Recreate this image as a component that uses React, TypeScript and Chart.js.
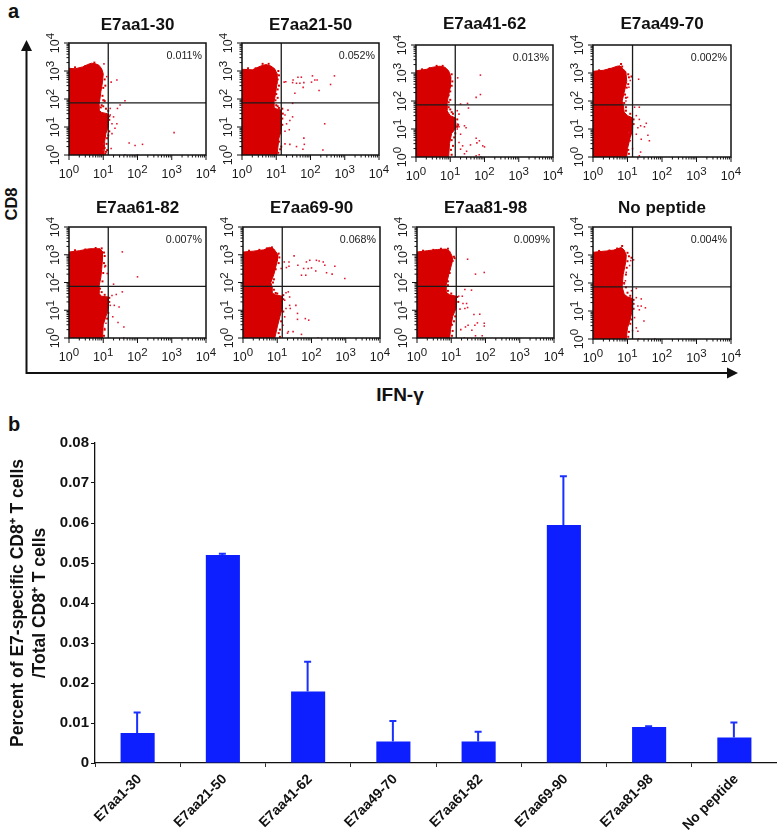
import React, { useEffect, useRef } from "react";
import { Chart, registerables } from "chart.js";

Chart.register(...registerables);

const FONT = "'Liberation Sans', Arial, sans-serif";

// ---------- panel a ----------
const panelTitles = ["E7aa1-30", "E7aa21-50", "E7aa41-62", "E7aa49-70", "E7aa61-82", "E7aa69-90", "E7aa81-98", "No peptide"];
const panelPercents = ["0.011%", "0.052%", "0.013%", "0.002%", "0.007%", "0.068%", "0.009%", "0.004%"];
const tickExponents = [0, 1, 2, 3, 4];
const minorMultipliers = [2, 3, 4, 5, 6, 7, 8, 9];
const gateX = 14;
const gateY = 73;

// dense population outlines, [IFN-g, CD8]
const blob1 = [[1,1],[1,1250],[1.5,1200],[2.5,1400],[3.5,1700],[4.5,1900],[6,1800],[7.5,1600],[9,1200],[10,800],[9.5,400],[8.5,180],[8,100],[7.5,60],[7.5,40],[9,33],[13,30],[14,28],[14,10],[12,6],[11,3],[10.5,1]];
const blob2 = [[1,1],[1,1150],[2,1100],[3.5,1500],[5,1700],[7,1500],[9,1200],[10.5,800],[10.5,350],[9.5,150],[8.5,73],[8.5,50],[10,45],[14,40],[14,8],[12,4],[10.5,1]];
const blob3 = [[1,1],[1,1200],[2,1350],[3,1600],[5,1750],[7,1600],[9,1200],[10.5,700],[10,300],[8.5,120],[8,73],[8,45],[10,30],[14,25],[15,12],[14,10],[11,7],[9.5,3],[9,1]];
const blob4 = [[1,1],[1,1150],[2,1250],[3.5,1500],[5,1750],[6,1800],[7.5,1400],[9,1100],[9.5,500],[8,200],[7,100],[7.5,73],[8,40],[10,30],[14,25],[14,10],[12,5],[10,2],[9.5,1]];
const blob5 = [[1,1],[1,1250],[2,1400],[4,1650],[8,1650],[9.5,1300],[9.5,700],[9,300],[8.5,150],[7.5,73],[7.5,40],[9,32],[14,30],[14,12],[12,6],[10,3],[9.5,1]];
const blob6 = [[1,1],[1,1250],[2,1350],[4,1500],[6,1850],[8,1600],[10.5,1000],[10,600],[8,200],[6.5,100],[7,73],[7,42],[9,36],[14,32],[14,12],[12,6],[10,2.5],[8.5,1]];
const blob7 = [[1,1],[1,1250],[2,1400],[4,1550],[7,1600],[9,1350],[11,800],[10.5,500],[8.5,200],[7,73],[7,45],[9,36],[14,32],[14,12],[11,6],[9.5,2],[9,1]];
const blob8 = [[1,1],[1,1250],[2.5,1400],[4,1500],[6.6,1850],[8,1500],[9.2,1000],[9,600],[7.5,200],[7,73],[8,40],[10,32],[14,28],[14,12],[12,5],[10,2.5],[9.2,1]];

// events on the rough edge of the dense population, [IFN-g, CD8]
const edge1 = [[11,500],[11.5,300],[10,250],[9.5,130],[10,90],[11,85],[9,60],[8.5,50],[10,55],[12,45],[14,38],[11,1.8],[12,1.3],[12.5,2.5],[13,4],[14,5],[15,7],[15,18],[15,24],[11.5,1.1],[13,1.5],[1.5,1350],[3,1500],[5.5,2000]];
const edge2 = [[11.5,1000],[12,700],[11,500],[12,300],[11,220],[10,150],[11,110],[9.5,90],[10,60],[11,55],[12,48],[15,45],[15.5,30],[15,20],[15,12],[13,6],[12,3],[14,2],[13,1.6],[11.5,1.2],[1.5,1250],[2.5,1250],[4,1800],[6,1800]];
const edge3 = [[11,900],[11.5,500],[11,350],[10,220],[9,160],[10,110],[9,90],[9,60],[10,50],[11,40],[12,35],[16,22],[17,14],[16,12],[14,7],[13,5],[11,4],[12,2.5],[10.5,1.8],[11,1.2],[1.5,1350],[2.5,1500],[4,1800],[6,1800]];
const edge4 = [[10.5,900],[11,700],[13,750],[10.5,400],[9.5,300],[8.5,170],[9,130],[8,85],[9,60],[9,45],[12,35],[15,22],[15,15],[13,7],[12,6],[11,4],[10.5,1.8],[11,1.3],[1.5,1250],[3,1400],[6.5,2100],[7,1700]];
const edge5 = [[10.5,1200],[11,900],[10.5,500],[11.5,400],[10,220],[9.5,110],[8,60],[9,45],[11,36],[15,28],[15,20],[14,8],[13,5],[11,2],[10.5,1.2],[1.5,1450],[3,1550],[6,1750],[9,1700]];
const edge6 = [[11,1100],[11.5,800],[11,500],[9,300],[8,130],[7.5,100],[8,55],[9,42],[10,40],[15,35],[15,25],[15,9],[13,4],[12,2],[11,1.5],[12,1.1],[1.5,1400],[3,1500],[5,1700],[7,1850]];
const edge7 = [[12,850],[12.5,750],[11,600],[9,300],[9,220],[8,110],[8,80],[8,50],[10,40],[15,30],[16,20],[13,6],[12,4],[10.5,3],[11,1.8],[10.5,1.2],[1.5,1400],[3,1500],[5,1650],[8,1650]];
const edge8 = [[10,1200],[11,900],[13,800],[10,600],[9.5,350],[9,200],[8,100],[9,70],[10,45],[12,35],[15,25],[15,18],[15,12],[13,5],[12,3.5],[11,1.8],[10.5,1.2],[1.5,1400],[3,1450],[5,1700],[7,2100]];

// sparse events, [IFN-g, CD8]
const dots1 = [[25,480],[17,400],[43,87],[1170,6.3],[57,2.7],[85,2.2],[140,2.4],[43,1],[100,1],[17,1.7],[16,27],[20,23],[18,13],[25,13],[22,9],[16,46],[26,46],[31,61],[18,5.8],[13,3.9],[10.5,2.5],[10,1.5],[10.5,1800],[12.6,630],[10.5,92]];
const dots2 = [[17,400],[19,410],[31,480],[30,385],[43,600],[54,600],[39,365],[49,365],[64,385],[61,260],[35,160],[114,670],[107,400],[134,480],[156,480],[178,200],[385,330],[500,670],[30,70],[22,40],[18,27],[25,17],[20,13],[24,8],[18,7],[30,23],[39,2],[64,4],[66,2.4],[60,1.6],[260,13],[230,1.5],[18,2.5],[25,2.4]];
const dots3 = [[16.5,670],[76,840],[76,170],[57,135],[32,82],[20,78],[16,45],[34,56],[18,34],[16.5,15],[26,13],[29,11],[18,12],[16,10],[20,6.5],[18,3.3],[23,2.5],[39,2.7],[57,4.7],[71,3.8],[89,2.5],[60,3.2],[100,2.3],[26,1.3],[30,1.6],[57,1.1],[70,1.2],[78,1],[20,1.9]];
const dots4 = [[21,600],[22,60],[16,60],[18,30],[22,22],[20,11],[24,13],[35,16],[31,12],[39,6],[43,3.8],[25,4.3],[18,6.5],[24,1.5],[22,1.1],[14,2],[12,3.8],[11,7.5],[12,540],[11,310],[10,135],[9,100]];
const dots5 = [[36,1270],[100,160],[20,87],[13,210],[11,365],[24,37],[18,34],[36,46],[16,15],[21,15],[29,13],[19,5.8],[27,3.6],[40,2.5],[40,1],[11,2.2],[12,3.4]];
const dots6 = [[16,550],[22,550],[18.5,345],[13,320],[40,420],[31,910],[71,550],[89,630],[139,630],[167,600],[220,550],[245,420],[59,320],[80,320],[100,335],[133,260],[275,225],[480,385],[400,200],[940,140],[51,183],[68,183],[22,385],[21,46],[18,43],[23,30],[16.5,23],[23,15],[18,11.6],[35,15],[24,11.6],[39,7.7],[39,4.7],[66,5],[83,4.4],[16.5,5.8],[14.7,2.9],[21,1.7],[29,1.7],[51,1.35],[155,1],[20,1.5]];
const dots7 = [[30,690],[51,200],[92,230],[25,56],[39,53],[21,32],[16.5,32],[22,17.5],[28,17.5],[18,11],[25,11.6],[30,12.5],[46,7],[68,7.2],[92,3.4],[92,2.7],[58,3.5],[49,2.9],[31,2.9],[26,2.5],[19,2],[51,1.2],[24,1],[40,1.9],[80,1.2]];
const dots8 = [[15,670],[12.4,630],[11.5,420],[9.2,240],[8.7,120],[8,92],[13,53],[18,64],[18,30],[25,27],[20,15],[25,15],[33,13],[22,11],[30,4.4],[16,5.8],[18,2.5],[20,1.9],[21,1],[62,1],[14,2]];

const panelBlobs = [blob1, blob2, blob3, blob4, blob5, blob6, blob7, blob8];
const panelEdges = [edge1, edge2, edge3, edge4, edge5, edge6, edge7, edge8];
const panelDots = [dots1, dots2, dots3, dots4, dots5, dots6, dots7, dots8];

// plot-area boxes: left, right, top, bottom
const panelBoxes = [
  [69, 206, 43, 155], [242, 379, 43, 155], [416, 553, 45, 157], [593, 731, 45, 157],
  [69, 206, 227, 338], [243, 380, 227, 338], [417, 554, 227, 338], [593, 731, 227, 339],
];
const titleTopPad = [3, 3, 0.5, 0.5, 2, 2, 2, 2];

const toPoints = (list: number[][]) => list.map(([x, y]) => ({ x, y }));

const flowAxes = {
  id: "flowAxes",
  afterDatasetsDraw(chart: any, _a: any, opts: any) {
    const { ctx, chartArea: A, scales } = chart;
    const sx = scales.x;
    const sy = scales.y;
    ctx.save();
    ctx.strokeStyle = "#111";
    ctx.lineWidth = 1.5;
    ctx.strokeRect(A.left, A.top, A.right - A.left, A.bottom - A.top);
    ctx.lineWidth = 1;
    ctx.beginPath();
    tickExponents.forEach((e) => {
      const v = Math.pow(10, e);
      const px = sx.getPixelForValue(v);
      const py = sy.getPixelForValue(v);
      ctx.moveTo(px, A.bottom);
      ctx.lineTo(px, A.bottom + 5);
      ctx.moveTo(A.left, py);
      ctx.lineTo(A.left - 5, py);
      if (e < 4) {
        minorMultipliers.forEach((m) => {
          const qx = sx.getPixelForValue(v * m);
          const qy = sy.getPixelForValue(v * m);
          ctx.moveTo(qx, A.bottom);
          ctx.lineTo(qx, A.bottom + 2.5);
          ctx.moveTo(A.left, qy);
          ctx.lineTo(A.left - 2.5, qy);
        });
      }
    });
    ctx.stroke();

    ctx.fillStyle = "#1a1a1a";
    ctx.textBaseline = "alphabetic";
    ctx.textAlign = "left";
    tickExponents.forEach((e) => {
      const v = Math.pow(10, e);
      const base = "10";
      const sup = String(e);
      ctx.font = `12.5px ${FONT}`;
      const bw = ctx.measureText(base).width;
      ctx.font = `11.5px ${FONT}`;
      const sw = ctx.measureText(sup).width;
      const total = bw + sw;
      // horizontal axis label
      const px = sx.getPixelForValue(v);
      ctx.font = `12.5px ${FONT}`;
      ctx.fillText(base, px - total / 2, A.bottom + 23);
      ctx.font = `11.5px ${FONT}`;
      ctx.fillText(sup, px - total / 2 + bw, A.bottom + 18);
      // vertical axis label
      const py = sy.getPixelForValue(v);
      ctx.save();
      ctx.translate(A.left - 10, py);
      ctx.rotate(-Math.PI / 2);
      ctx.font = `12.5px ${FONT}`;
      ctx.fillText(base, -total / 2, 0);
      ctx.font = `11.5px ${FONT}`;
      ctx.fillText(sup, -total / 2 + bw, -5);
      ctx.restore();
    });

    ctx.font = `10.7px ${FONT}`;
    ctx.textAlign = "right";
    ctx.textBaseline = "middle";
    ctx.fillStyle = "#222";
    ctx.fillText(opts.percent, A.right - 4, A.top + 13);
    ctx.restore();
  },
};

function FlowPanel({ index }: { index: number }) {
  const ref = useRef<HTMLCanvasElement>(null);
  const [L, R, T, B] = panelBoxes[index];
  const padL = 34, padR = 14, titleH = 31, padB = 28;
  useEffect(() => {
    const hiddenAxis = {
      type: "logarithmic",
      min: 1,
      max: 10000,
      grid: { display: false, drawTicks: false },
      border: { display: false },
      ticks: { display: false },
    };
    const chart = new Chart(ref.current as HTMLCanvasElement, {
      type: "scatter",
      data: {
        datasets: [
          { label: "gate x", data: toPoints([[gateX, 1], [gateX, 10000]]), showLine: true, borderColor: "#1a1a1a", borderWidth: 1.3, pointRadius: 0, order: 1 },
          { label: "gate y", data: toPoints([[1, gateY], [10000, gateY]]), showLine: true, borderColor: "#1a1a1a", borderWidth: 1.3, pointRadius: 0, order: 1 },
          { label: "population", data: toPoints(panelBlobs[index]), showLine: true, fill: "shape", backgroundColor: "#d60000", borderColor: "#d60000", borderWidth: 1, pointRadius: 0, order: 4 },
          { label: "edge", data: toPoints(panelEdges[index]), backgroundColor: "#d60000", borderWidth: 0, pointStyle: "rect", pointRadius: 1.4, order: 3 },
          { label: "events", data: toPoints(panelDots[index]), backgroundColor: "#e3142c", borderWidth: 0, pointStyle: "rect", pointRadius: 1.1, order: 2 },
        ] as any,
      },
      options: {
        responsive: false,
        animation: false,
        layout: { padding: { left: padL, right: padR, top: 0, bottom: padB } },
        scales: {
          x: { ...hiddenAxis, afterFit: (s: any) => { s.height = 0; } },
          y: { ...hiddenAxis, afterFit: (s: any) => { s.width = 0; } },
        },
        plugins: {
          legend: { display: false },
          tooltip: { enabled: false },
          title: {
            display: true,
            fullSize: false,
            text: panelTitles[index],
            color: "#111",
            font: { family: FONT, size: 17, weight: "bold", lineHeight: 1.2 },
            padding: { top: titleTopPad[index], bottom: 10.6 - titleTopPad[index] },
          },
          flowAxes: { percent: panelPercents[index] },
        } as any,
      } as any,
      plugins: [flowAxes],
    });
    return () => chart.destroy();
  }, [index]);
  return (
    <canvas
      ref={ref}
      width={R - L + padL + padR}
      height={B - T + titleH + padB}
      style={{ position: "absolute", left: L - padL, top: T - titleH }}
    />
  );
}

// ---------- panel b ----------
const barCategories = ["E7aa1-30", "E7aa21-50", "E7aa41-62", "E7aa49-70", "E7aa61-82", "E7aa69-90", "E7aa81-98", "No peptide"];
const barValues = [0.0075, 0.052, 0.0179, 0.0054, 0.0054, 0.0595, 0.009, 0.0064];
const errorTops = [0.0126, 0.0523, 0.0253, 0.0105, 0.0078, 0.0717, 0.0092, 0.0101];
const yTicks = [0, 0.01, 0.02, 0.03, 0.04, 0.05, 0.06, 0.07, 0.08];
const yTitleLines = ["Percent of E7-specific CD8\u207A T cells", "/Total CD8\u207A T cells"];

const errorBars = {
  id: "errorBars",
  afterDatasetsDraw(chart: any) {
    const { ctx, scales } = chart;
    ctx.save();
    ctx.strokeStyle = "#1a30ff";
    ctx.lineWidth = 2;
    errorTops.forEach((top, i) => {
      const x = scales.x.getPixelForValue(i);
      const y0 = scales.y.getPixelForValue(barValues[i]);
      const y1 = scales.y.getPixelForValue(top);
      ctx.beginPath();
      ctx.moveTo(x - 0.5, y0);
      ctx.lineTo(x - 0.5, y1);
      ctx.moveTo(x - 4, y1);
      ctx.lineTo(x + 3, y1);
      ctx.stroke();
    });
    ctx.restore();
  },
};

function BarPanel() {
  const ref = useRef<HTMLCanvasElement>(null);
  useEffect(() => {
    const chart = new Chart(ref.current as HTMLCanvasElement, {
      type: "bar",
      data: {
        labels: barCategories,
        datasets: [{ label: "Percent", data: barValues, backgroundColor: "#0d1fff", barPercentage: 1, categoryPercentage: 0.4 }],
      },
      options: {
        responsive: false,
        animation: false,
        layout: { padding: { top: 23, right: 0, bottom: 0, left: 0 } },
        scales: {
          x: {
            grid: { drawOnChartArea: false, color: "#333", tickLength: 4, offset: true },
            border: { color: "#111", width: 1.3 },
            ticks: {
              color: "#111",
              font: { family: FONT, size: 14, weight: "bold" },
              maxRotation: 45,
              minRotation: 45,
              autoSkip: false,
              padding: 4,
              labelOffset: 2,
            },
            afterFit: (s: any) => { s.height = 71; },
          },
          y: {
            min: 0,
            max: 0.08,
            afterBuildTicks: (s: any) => { s.ticks = yTicks.map((value) => ({ value })); },
            afterFit: (s: any) => { s.width = 95; },
            grid: { drawOnChartArea: false, color: "#111", tickLength: 4 },
            border: { color: "#111", width: 1.3 },
            ticks: {
              color: "#111",
              font: { family: FONT, size: 15, weight: "bold" },
              padding: 2,
              callback: (v: any) => String(v),
            },
            title: {
              display: true,
              text: yTitleLines,
              color: "#111",
              font: { family: FONT, size: 17.5, weight: "bold", lineHeight: 1.26 },
              padding: { top: 7, bottom: 0 },
            },
          },
        },
        plugins: { legend: { display: false }, tooltip: { enabled: false } },
      } as any,
      plugins: [errorBars],
    });
    return () => chart.destroy();
  }, []);
  return <canvas ref={ref} width={777} height={414} style={{ position: "absolute", left: 0, top: 420 }} />;
}

// ---------- page ----------
export default function App() {
  return (
    <div style={{ position: "absolute", left: 0, top: 0, width: 777, height: 834, overflow: "hidden", background: "#fff" }}>
      <svg width={777} height={834} style={{ position: "absolute", left: 0, top: 0 }}>
        <line x1={26.5} y1={48} x2={26.5} y2={374} stroke="#111" strokeWidth={2} />
        <polygon points="26.5,40 21,51 32,51" fill="#111" />
        <line x1={27} y1={373} x2={730} y2={373} stroke="#111" strokeWidth={2} />
        <polygon points="738,373 727,367.5 727,378.5" fill="#111" />
        <text x={8} y={18} fontFamily={FONT} fontSize={20} fontWeight="bold" fill="#111">a</text>
        <text x={8} y={431} fontFamily={FONT} fontSize={20} fontWeight="bold" fill="#111">b</text>
        <text x={0} y={0} transform="translate(17,204) rotate(-90)" textAnchor="middle" fontFamily={FONT} fontSize={16.5} fontWeight="bold" fill="#111">CD8</text>
        <text x={400} y={401} textAnchor="middle" fontFamily={FONT} fontSize={19} fontWeight="bold" fill="#111">IFN-γ</text>
      </svg>
      {panelTitles.map((_, i) => <FlowPanel key={i} index={i} />)}
      <BarPanel />
    </div>
  );
}
